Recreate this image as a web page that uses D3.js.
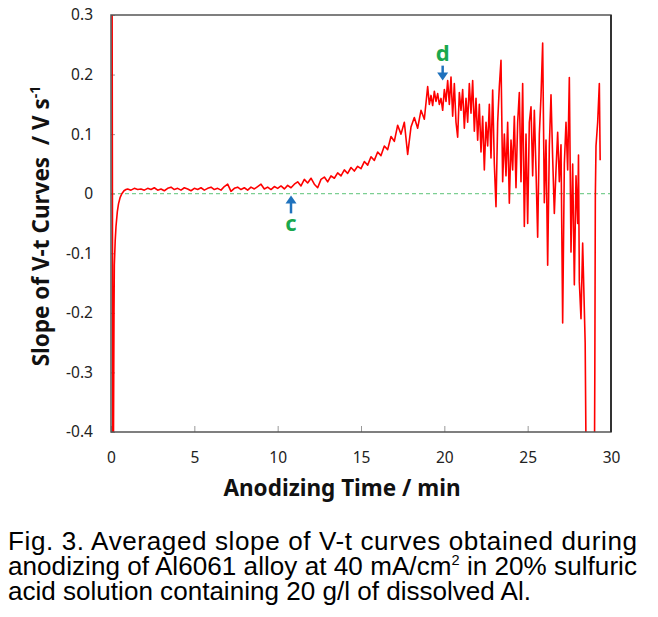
<!DOCTYPE html>
<meta charset="utf-8">
<head>
  <title>Averaged slope of V-t curves</title>
</head>

<style>
body { margin: 0; background: #fff; }
text { font-family: "Noto Sans", sans-serif; }
.tick text { font-size: 15.5px; fill: #222; }
.tick line { stroke: #999; }
.axis-title { font-size: 22.5px; font-weight: bold; fill: #111; }
.caption { font-family: "Liberation Sans", Arial, sans-serif; font-size: 25px; fill: #000; }
.mark { font-size: 22px; font-weight: bold; fill: #1aa84e; }
</style>

<body>
  <svg width="658" height="617"></svg>

  <script src="https://cdnjs.cloudflare.com/ajax/libs/d3/7.8.5/d3.min.js"></script>
  <script>
// [time (min), slope (V/s)]
var startup = [
  [0.05, 0.6], [0.12, -0.6], [0.18, -0.2], [0.2, -0.12], [0.25, -0.08], [0.3, -0.055],
  [0.38, -0.03], [0.45, -0.017], [0.55, -0.006], [0.65, 0.0], [0.78, 0.005], [0.9, 0.007]
];
var plateau = [
  [1.0, .008], [1.2, .006], [1.4, .009], [1.6, .007], [1.8, .008], [2.0, .006], [2.2, .009],
  [2.4, .007], [2.6, .010], [2.8, .006], [3.0, .008], [3.2, .005], [3.4, .009], [3.6, .011],
  [3.8, .007], [4.0, .009], [4.2, .006], [4.4, .010], [4.6, .008], [4.8, .005], [5.0, .009],
  [5.2, .007], [5.4, .010], [5.6, .006], [5.8, .009], [6.0, .011], [6.2, .007], [6.4, .009],
  [6.6, .006], [6.8, .012], [7.0, .016], [7.2, .004], [7.4, .009], [7.6, .011], [7.8, .007],
  [8.0, .010], [8.2, .006], [8.4, .011], [8.6, .008], [8.8, .012], [9.0, .016], [9.2, .008],
  [9.4, .011], [9.6, .007], [9.8, .012], [10.0, .009]
];
var rise = [
  [10.2, .013], [10.4, .008], [10.6, .014], [10.8, .010], [11.0, .016], [11.2, .020], [11.4, .013],
  [11.6, .024], [11.8, .018], [12.0, .026], [12.2, .016], [12.4, .010], [12.6, .024], [12.8, .028],
  [13.0, .020], [13.2, .030], [13.4, .026], [13.6, .035], [13.8, .030], [14.0, .040], [14.2, .034],
  [14.4, .044], [14.6, .038], [14.8, .046], [15.0, .042], [15.2, .054], [15.4, .048], [15.6, .062],
  [15.8, .056], [16.0, .070], [16.2, .064], [16.4, .080], [16.6, .074], [16.8, .096], [17.0, .088],
  [17.2, .115], [17.4, .100], [17.6, .120], [17.8, .066], [18.0, .112], [18.2, .128], [18.4, .110],
  [18.6, .140], [18.8, .125], [19.0, .180]
];
var unstable = [
  [19.1, .150], [19.2, .165], [19.3, .148], [19.4, .172], [19.5, .155], [19.6, .168], [19.7, .150],
  [19.8, .160], [19.9, .140], [20.0, .175], [20.1, .155], [20.2, .190], [20.3, .150], [20.4, .196],
  [20.5, .130], [20.6, .185], [20.7, .120], [20.8, .095], [20.9, .170], [21.0, .140], [21.1, .175],
  [21.2, .110], [21.3, .160], [21.4, .120], [21.5, .185], [21.6, .135], [21.7, .190], [21.8, .105],
  [21.9, .160], [22.0, .090], [22.1, .150], [22.2, .070], [22.3, .130], [22.4, .040], [22.5, .120],
  [22.6, .080], [22.7, .150], [22.8, .060], [22.9, .174], [23.0, .050], [23.1, -.022], [23.2, .120],
  [23.3, .180], [23.4, .224], [23.5, .020], [23.6, .100], [23.7, .030], [23.8, .120], [23.9, -.016],
  [24.0, .090], [24.1, .040], [24.2, .130], [24.3, .010], [24.4, .120], [24.5, .170], [24.6, .020],
  [24.7, .185], [24.8, -.055], [24.9, .100], [25.0, -.050], [25.1, .120], [25.2, .146], [25.3, .030],
  [25.4, .140], [25.5, .040], [25.6, -.073], [25.7, .100], [25.8, .163], [25.9, .253], [26.0, -.015],
  [26.1, .090], [26.2, -.120], [26.3, .080], [26.4, .166], [26.5, .060], [26.6, -.033], [26.7, .040],
  [26.8, .103], [26.9, .020], [27.0, .082], [27.1, -.217], [27.2, .050], [27.3, .120], [27.4, .040],
  [27.5, .195], [27.6, -.098], [27.7, .050], [27.8, -.153], [27.9, .030], [28.0, -.050], [28.05, .065],
  [28.1, -.148], [28.2, -.210], [28.3, -.083], [28.45, -.250], [28.55, -.600], [28.8, -.650],
  [29.0, -.500], [29.03, -.296], [29.06, -.005], [29.1, .080], [29.2, .120], [29.3, .185], [29.35, .056]
];

var xTicks = [0, 5, 10, 15, 20, 25, 30];
var yTicks = [-0.4, -0.3, -0.2, -0.1, 0, 0.1, 0.2, 0.3];

// arrows: time, arrow tip, arrow tail, label value
var markers = [
  { label: "c", t: 10.8, tip: -0.003, tail: -0.033, at: -0.05 },
  { label: "d", t: 19.9, tip: 0.19, tail: 0.215, at: 0.235 }
];

var captionLines = [
  "Fig. 3. Averaged slope of V-t curves obtained during",
  ["anodizing of Al6061 alloy at 40 mA/cm", "2", " in 20% sulfuric"],
  "acid solution containing 20 g/l of dissolved Al."
];

var curve = startup.concat(plateau, rise, unstable);

var svg = d3.select("svg");
var plotL = 111, plotR = 611, plotT = 15, plotB = 432;

var x = d3.scaleLinear().domain([0, 30]).range([plotL, plotR]);
var y = d3.scaleLinear().domain([-0.4, 0.3]).range([plotB, plotT]);

svg.append("clipPath").attr("id", "plot")
  .append("rect")
  .attr("x", plotL).attr("y", plotT)
  .attr("width", plotR - plotL).attr("height", plotB - plotT);

// zero line
svg.append("line")
  .attr("x1", x(0)).attr("x2", x(30))
  .attr("y1", y(0)).attr("y2", y(0))
  .attr("stroke", "#7ccf92")
  .attr("stroke-width", 1.3)
  .attr("stroke-dasharray", "4,3");

svg.append("g")
  .attr("transform", "translate(0," + plotB + ")")
  .call(d3.axisBottom(x).tickValues(xTicks).tickSizeInner(-6).tickSizeOuter(0).tickPadding(20))
  .call(function(g) { g.select(".domain").remove(); });

svg.append("g")
  .attr("transform", "translate(" + plotL + ",0)")
  .call(d3.axisLeft(y).tickValues(yTicks).tickSizeInner(-4).tickSizeOuter(0).tickPadding(18)
    .tickFormat(function(d) { return d === 0 ? "0" : d3.format(".1f")(d).replace("\u2212", "-"); }))
  .call(function(g) { g.select(".domain").remove(); });

svg.selectAll(".tick text").attr("font-family", null);

svg.append("path")
  .datum(curve)
  .attr("clip-path", "url(#plot)")
  .attr("fill", "none")
  .attr("stroke", "#ff0000")
  .attr("stroke-width", 1.6)
  .attr("stroke-linejoin", "round")
  .attr("d", d3.line().x(function(d) { return x(d[0]); }).y(function(d) { return y(d[1]); }));

// frame
svg.append("rect")
  .attr("x", plotL).attr("y", plotT)
  .attr("width", plotR - plotL).attr("height", plotB - plotT)
  .attr("fill", "none")
  .attr("stroke", "#555")
  .attr("stroke-width", 1.5);
svg.append("line")
  .attr("x1", plotR).attr("x2", plotR).attr("y1", plotT).attr("y2", plotB)
  .attr("stroke", "#333").attr("stroke-width", 2);

// c / d markers
markers.forEach(function(m) {
  var px = x(m.t), tipY = y(m.tip), tailY = y(m.tail);
  var dir = tailY > tipY ? 1 : -1;
  svg.append("line")
    .attr("x1", px).attr("x2", px)
    .attr("y1", tailY).attr("y2", tipY + dir * 6)
    .attr("stroke", "#1f72bd").attr("stroke-width", 2.5);
  svg.append("path")
    .attr("d", "M" + px + "," + tipY + "L" + (px - 5.5) + "," + (tipY + dir * 8) + "L" + (px + 5.5) + "," + (tipY + dir * 8) + "Z")
    .attr("fill", "#1f72bd");
  svg.append("text")
    .attr("class", "mark")
    .attr("x", px).attr("y", y(m.at))
    .attr("text-anchor", "middle")
    .attr("dy", "0.35em")
    .text(m.label);
});

// axis titles
svg.append("text")
  .attr("class", "axis-title")
  .attr("x", 342).attr("y", 496)
  .attr("text-anchor", "middle")
  .text("Anodizing Time / min");

var yt = svg.append("text")
  .attr("class", "axis-title")
  .attr("transform", "translate(49,226) rotate(-90)")
  .attr("text-anchor", "middle");
yt.append("tspan").text("Slope of V-t Curves \u00a0/ V s");
yt.append("tspan").attr("dy", -9).attr("font-size", "14px").text("-1");

// caption: glyphs narrowed so line 2 just fills the width, line 1 justified
var baselines = [550, 575, 600];
var capG = captionLines.map(function(line, i) {
  var g = svg.append("g");
  var t = g.append("text").attr("class", "caption").attr("x", 0).attr("y", 0);
  if (typeof line === "string") {
    t.text(line);
  } else {
    t.append("tspan").text(line[0]);
    t.append("tspan").attr("dy", -10).attr("font-size", "14px").text(line[1]);
    t.append("tspan").attr("dy", 10).text(line[2]);
  }
  return { g: g, t: t, i: i };
});
var s = 627 / capG[1].t.node().getComputedTextLength();
capG.forEach(function(c) {
  c.g.attr("transform", "translate(8," + baselines[c.i] + ") scale(" + s + ",1)");
  if (c.i < 2) c.t.attr("textLength", 629 / s).attr("lengthAdjust", "spacing");
});
  </script>
</body>
</html>
